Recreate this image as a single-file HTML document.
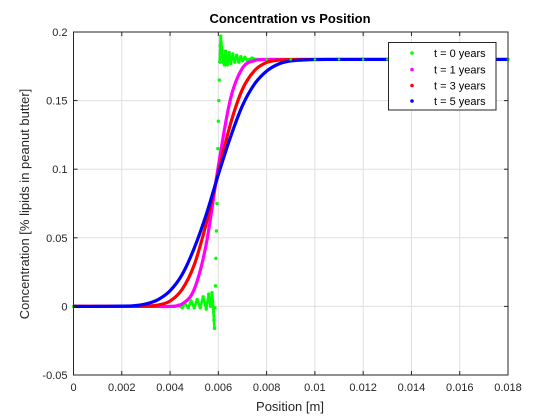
<!DOCTYPE html>
<html><head><meta charset="utf-8"><style>
body{margin:0;background:#fff;}
svg{display:block;font-family:"Liberation Sans",Arial,sans-serif;}
</style></head><body>
<svg id="chart" width="560" height="420" viewBox="0 0 560 420">
<rect width="560" height="420" fill="#fff"/>
<g id="grid"></g>
<g id="series"></g>
<g id="axes"></g>
<text x="290" y="23" text-anchor="middle" font-size="13" font-weight="bold" fill="#000">Concentration vs Position</text>
<text x="290" y="411" text-anchor="middle" font-size="13" fill="#262626">Position [m]</text>
<text x="0" y="0" transform="translate(29,204) rotate(-90)" text-anchor="middle" font-size="13" fill="#262626">Concentration [% lipids in peanut butter]</text>
<g>
<rect x="388.5" y="42.5" width="107.5" height="67.5" fill="#fff" stroke="#262626" stroke-width="1"/>
<g><circle cx="412" cy="53" r="1.8" fill="#00ff00"/><text x="434" y="57" font-size="11" fill="#000">t = 0 years</text></g>
<g><circle cx="412" cy="69.5" r="1.8" fill="#ff00ff"/><text x="434" y="73.5" font-size="11" fill="#000">t = 1 years</text></g>
<g><circle cx="412" cy="85.5" r="1.8" fill="#ff0000"/><text x="434" y="89.5" font-size="11" fill="#000">t = 3 years</text></g>
<g><circle cx="412" cy="101" r="1.8" fill="#0000ff"/><text x="434" y="105" font-size="11" fill="#000">t = 5 years</text></g>
</g>
</svg>
<script>
const xTicks=[0,0.002,0.004,0.006,0.008,0.01,0.012,0.014,0.016,0.018];
const xTickLabels=["0","0.002","0.004","0.006","0.008","0.01","0.012","0.014","0.016","0.018"];
const yTicks=[-0.05,0,0.05,0.1,0.15,0.2];
const yTickLabels=["-0.05","0","0.05","0.1","0.15","0.2"];
const xs=[0,0.001,0.002,0.0025,0.003,0.0035,0.004,0.0045,0.005,0.0055,0.006,0.0065,0.007,0.0075,0.008,0.0085,0.009,0.0095,0.01,0.0105,0.011,0.012,0.018];
const t5=[0,0,0.0002,0.0005,0.0018,0.0049,0.0114,0.0232,0.0424,0.0670,0.0961,0.1232,0.1464,0.1621,0.1715,0.1767,0.1789,0.1796,0.1799,0.18,0.18,0.18,0.18];
const t3=[0,0,0,0,0.0002,0.0010,0.0039,0.0124,0.0302,0.0604,0.0976,0.1328,0.1583,0.1719,0.1778,0.1795,0.1799,0.18,0.18,0.18,0.18,0.18,0.18];
const t1=[0,0,0,0,0,0,0,0.0018,0.0124,0.0455,0.1022,0.1510,0.1737,0.1792,0.18,0.18,0.18,0.18,0.18,0.18,0.18,0.18,0.18];
const g0x=[0,0.001,0.002,0.003,0.0042,0.00435,0.0045,0.00462,0.00475,0.00487,0.005,0.00512,0.00525,0.00537,0.0055,0.0056,0.00568,0.00574,0.00577,0.0058,0.00582,0.00584,0.00586,0.00588,0.0059,0.00592,0.00594,0.00596,0.00598,0.006,0.00602,0.00604,0.00606,0.00608,0.0061,0.00612,0.00615,0.00618,0.0062,0.00625,0.0063,0.00637,0.00645,0.00652,0.0066,0.00668,0.00676,0.00685,0.00693,0.007,0.0071,0.0072,0.0074,0.0076,0.008,0.009,0.01,0.011,0.012,0.013,0.014,0.015,0.016,0.017,0.018];
const g0y=[0,0,0,0,0,0.001,-0.001,0.002,-0.001,0.004,-0.001,0.005,-0.001,0.007,-0.002,0.009,0.0,0.010,0.003,-0.004,-0.010,-0.016,-0.001,0.015,0.035,0.055,0.075,0.095,0.115,0.135,0.15,0.165,0.178,0.19,0.197,0.192,0.187,0.182,0.178,0.176,0.186,0.176,0.185,0.177,0.184,0.178,0.183,0.178,0.182,0.179,0.1815,0.1795,0.181,0.18,0.18,0.18,0.18,0.18,0.18,0.18,0.18,0.18,0.18,0.18,0.18];

const X0=73.5,X1=508,Y0=375,Y1=32;
const sx=v=>X0+(v-0)/(0.018)*(X1-X0);
const sy=v=>Y0-(v+0.05)/0.25*(Y0-Y1);
const NS="http://www.w3.org/2000/svg";
function mk(tag,attrs,parent){const e=document.createElementNS(NS,tag);for(const k in attrs)e.setAttribute(k,attrs[k]);parent.appendChild(e);return e;}
const grid=document.getElementById('grid'),axes=document.getElementById('axes'),series=document.getElementById('series');
xTicks.forEach((t,i)=>{
 const l=mk('line',{x1:sx(t),x2:sx(t),y1:Y1,y2:Y0,stroke:'#dfdfdf','stroke-width':1},grid);
 
 
 const tk=mk('line',{x1:sx(t),x2:sx(t),y1:Y0,y2:Y0-4,stroke:'#262626'},axes);
 
 
 const tt=mk('line',{x1:sx(t),x2:sx(t),y1:Y1,y2:Y1+4,stroke:'#262626'},axes);
 
 
 const tx=mk('text',{x:sx(t),y:Y0+16,'text-anchor':'middle','font-size':11,fill:'#262626'},axes);
 tx.textContent=xTickLabels[i];
 
 
});
yTicks.forEach((t,i)=>{
 const l=mk('line',{x1:X0,x2:X1,y1:sy(t),y2:sy(t),stroke:'#dfdfdf','stroke-width':1},grid);
 
 
 const tk=mk('line',{x1:X0,x2:X0+4,y1:sy(t),y2:sy(t),stroke:'#262626'},axes);
 
 
 const tr=mk('line',{x1:X1,x2:X1-4,y1:sy(t),y2:sy(t),stroke:'#262626'},axes);
 
 
 const tx=mk('text',{x:X0-6,y:sy(t)+4,'text-anchor':'end','font-size':11,fill:'#262626'},axes);
 tx.textContent=yTickLabels[i];
 
 
});
const box=mk('rect',{x:X0,y:Y1,width:X1-X0,height:Y0-Y1,fill:'none',stroke:'#262626','stroke-width':1},axes);



function smoothPath(px,py){
 let d=`M${px[0]},${py[0]}`;
 for(let i=0;i<px.length-1;i++){
  const p0=i>0?i-1:i,p3=i+2<px.length?i+2:i+1;
  const c1x=px[i]+(px[i+1]-px[p0])/6,c1y=py[i]+(py[i+1]-py[p0])/6;
  const c2x=px[i+1]-(px[p3]-px[i])/6,c2y=py[i+1]-(py[p3]-py[i])/6;
  d+=` C${c1x},${c1y} ${c2x},${c2y} ${px[i+1]},${py[i+1]}`;
 }
 return d;
}
// green t=0
const gg=mk('g',{},series);


for(let i=0;i<g0x.length-1;i++){
 const x1=sx(g0x[i]),y1=sy(g0y[i]),x2=sx(g0x[i+1]),y2=sy(g0y[i+1]);
 if(Math.abs(y2-y1)<17){
  const s=mk('line',{x1:x1,y1:y1,x2:x2,y2:y2,stroke:'#00ff00','stroke-width':2.6,'stroke-dasharray':(Math.abs(y2-y1)<0.5?'2.5 2':'none')},gg);
  
  
 }
}
g0x.forEach((v,i)=>{
 const c=mk('circle',{cx:sx(v),cy:sy(g0y[i]),r:1.7,fill:'#00ff00'},gg);
 
 
});
[[t1,'#ff00ff','series-t1'],[t3,'#ff0000','series-t3'],[t5,'#0000ff','series-t5']].forEach(([ys,col,name])=>{
 const p=mk('path',{d:smoothPath(xs.map(sx),ys.map(sy)),fill:'none',stroke:col,'stroke-width':3.2},series);
 
 
});
g0x.forEach((v,i)=>{ if(v>=0.008){
 const c=mk('circle',{cx:sx(v),cy:sy(g0y[i]),r:1.3,fill:'#00ff00'},series);
 
 
}});
</script>
</body></html>
